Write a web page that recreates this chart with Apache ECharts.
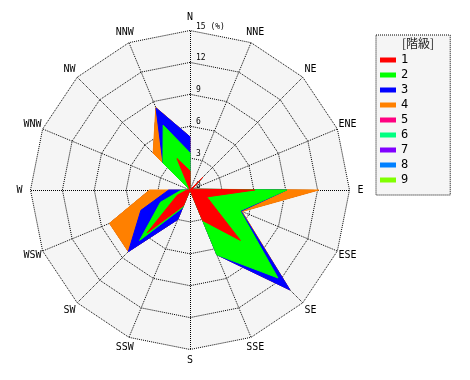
<!DOCTYPE html>
<html><head><meta charset="utf-8">
<script src="https://cdn.jsdelivr.net/npm/echarts@6/dist/echarts.min.js"></script>
<style>html,body{margin:0;padding:0;background:#fff}#c{width:470px;height:380px}</style>
</head><body><div id="c"></div>
<script>
// Directions clockwise from North
const directions = ['N','NNE','NE','ENE','E','ESE','SE','SSE','S','SSW','SW','WSW','W','WNW','NW','NNW'];
const classNames = ['1','2','3','4','5','6','7','8','9'];
const classColors = ['#ff0000','#00ff00','#0000ff','#ff8000','#ff0080','#00ff80','#8000ff','#0080ff','#80ff00'];
// Frequency (%) per class and direction (N, NNE, ... NNW)
const class1 = [1.8,0,1.7,0.2,6.1,1.7,6.7,3.1,0,1.6,5.7,1.3,0.3,0,0,3.2];
const class2 = [1.7,0,0,0,3.0,3.4,5.0,3.5,0,0.2,1.0,1.7,0.5,0,3.6,3.4];
const class3 = [1.5,0,0,0,0,0.1,1.6,0,0,1.2,1.5,2.0,1.2,0,0,1.75];
const class4 = [0,0,0,0,3.0,0.1,0,0,0,0,0,3.2,1.8,0,1.3,0.05];
const class5 = [0,0,0,0,0,0,0,0,0,0,0,0,0,0,0,0];
const class6 = [0,0,0,0,0,0,0,0,0,0,0,0,0,0,0,0];
const class7 = [0,0,0,0,0,0,0,0,0,0,0,0,0,0,0,0];
const class8 = [0,0,0,0,0,0,0,0,0,0,0,0,0,0,0,0];
const class9 = [0,0,0,0,0,0,0,0,0,0,0,0,0,0,0,0];
const radialMax = 15;
const radialSplits = 5;

const classes = [class1,class2,class3,class4,class5,class6,class7,class8,class9];
// cumulative sums
const cumulative = [];
classes.forEach((arr, k) => {
  cumulative.push(arr.map((v, i) => +(v + (k ? cumulative[k-1][i] : 0)).toFixed(3)));
});
// ECharts radar runs counter-clockwise, so reorder to get a clockwise rose
const order = [0];
for (let i = directions.length - 1; i >= 1; i--) order.push(i);

const indicator = order.map((d, k) => {
  const o = { name: directions[d], min: 0, max: radialMax };
  if (k === 0) {
    o.axisLabel = {
      show: true, fontSize: 8, color: '#000', fontFamily: 'DejaVu Sans Mono',
      margin: -6, align: 'left', verticalAlign: 'bottom',
      formatter: v => v === radialMax ? v + ' (%)' : String(v)
    };
  }
  return o;
});

const series = [];
for (let k = classes.length - 1; k >= 0; k--) {
  series.push({
    type: 'radar',
    name: classNames[k],
    symbol: 'none',
    color: classColors[k],
    lineStyle: { color: classColors[k], width: k < 4 ? 1 : 0 },
    areaStyle: { color: classColors[k], opacity: 1 },
    data: [{ name: classNames[k], value: order.map(d => cumulative[k][d]),
             itemStyle: { color: classColors[k] } }]
  });
}

const chart = echarts.init(document.getElementById('c'), null, { renderer: 'canvas' });
chart.setOption({
  animation: false,
  backgroundColor: '#fff',
  title: {
    text: '[階級]', left: 413, top: 32, textAlign: 'center',
    textStyle: { fontSize: 12, fontWeight: 'normal', color: '#222', fontFamily: 'Noto Sans CJK JP' }
  },
  legend: {
    orient: 'vertical', left: 376, top: 35,
    data: classNames,
    icon: 'rect', itemWidth: 16, itemHeight: 5, itemGap: 3,
    padding: [19, 42, 9, 4],
    backgroundColor: '#f5f5f5', borderColor: '#000', borderWidth: 1, borderType: [1, 1],
    textStyle: { fontSize: 12, lineHeight: 12, color: '#000', fontFamily: 'DejaVu Sans Mono' }
  },
  radar: {
    center: [190, 190], radius: 159.5, startAngle: 90, shape: 'polygon',
    splitNumber: radialSplits,
    indicator: indicator,
    axisName: { color: '#000', fontSize: 10, fontFamily: 'DejaVu Sans Mono', align: 'center', verticalAlign: 'middle', padding: [4, 0, 0, 0] },
    axisNameGap: 11,
    splitLine: { lineStyle: { color: '#000', type: [1, 1], width: 1, cap: 'butt' } },
    axisLine: { lineStyle: { color: '#000', type: [1, 1], width: 1, cap: 'butt' } },
    splitArea: { show: true, areaStyle: { color: ['#f5f5f5'] } },
    axisTick: { show: false },
    axisLabel: { show: false }
  },
  series: series
});
</script></body></html>
